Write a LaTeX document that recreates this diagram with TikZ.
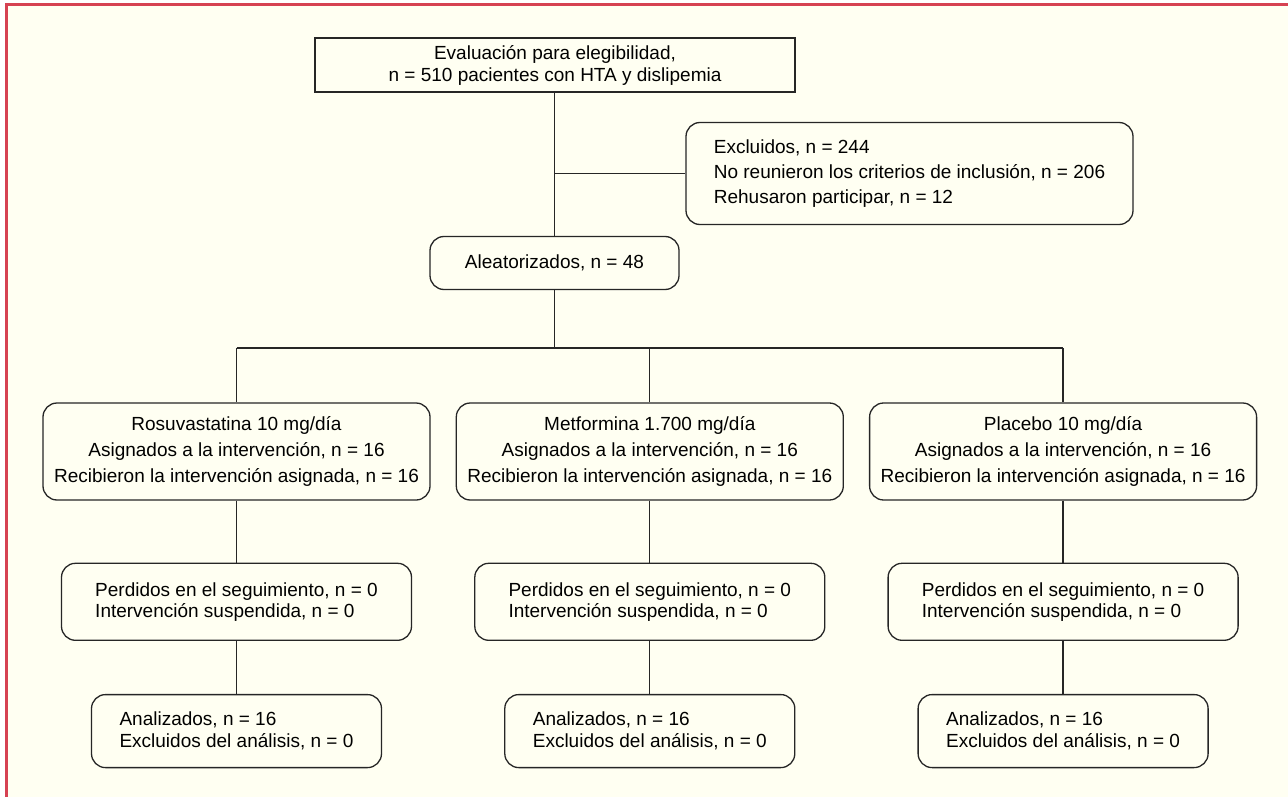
\documentclass[tikz,border=0pt]{standalone}
\usepackage{fontspec}
\setmainfont{Liberation Sans}
\usetikzlibrary{positioning}

\definecolor{crema}{RGB}{255,255,242}
\definecolor{marco}{RGB}{214,66,82}

\begin{document}
\begin{tikzpicture}[
    x=1pt, y=-1pt,
    font=\fontsize{19}{22}\selectfont,
    caja/.style={draw=black!85, line width=1.3pt, rounded corners=14pt, fill=crema,
        text=black, inner sep=0pt, minimum width=#1},
    grupo/.style={caja=387pt, minimum height=97pt, align=center,
        font=\fontsize{19}{26}\selectfont},
    segui/.style={caja=350pt, minimum height=77pt, align=left,
        font=\fontsize{19}{21}\selectfont},
    anali/.style={caja=290pt, minimum height=73pt, align=left,
        font=\fontsize{19}{22}\selectfont},
    linea/.style={draw=black!85, line width=1.3pt}
  ]
    \useasboundingbox (0,0) rectangle (1288,797);
    \fill[white] (0,0) rectangle (1288,797);
    \fill[crema] (6,4) rectangle (1288,797);
    \draw[marco, line width=2.5pt] (6.5,797) -- (6.5,4.5) -- (1288,4.5);

    \node[caja=480pt, minimum height=54pt, rounded corners=0pt, align=center] (eval) at (555,65)
        {Evaluación para elegibilidad,\\ n = 510 pacientes con HTA y dislipemia};
    \node[caja=447pt, minimum height=102pt, align=left, font=\fontsize{19}{25}\selectfont] (excl) at (909.5,173.5)
        {Excluidos, n = 244\\ No reunieron los criterios de inclusión, n = 206\\ Rehusaron participar, n = 12};
    \node[caja=249pt, minimum height=53pt] (alea) at (554.5,263) {Aleatorizados, n = 48};
    \coordinate (rama) at (554.5,348);

    \node[grupo] (g1) at (236.5,451.5) {Rosuvastatina 10 mg/día\\ Asignados a la intervención, n = 16\\ Recibieron la intervención asignada, n = 16};
    \node[grupo, right=25pt of g1] (g2) {Metformina 1.700 mg/día\\ Asignados a la intervención, n = 16\\ Recibieron la intervención asignada, n = 16};
    \node[grupo, right=25pt of g2] (g3) {Placebo 10 mg/día\\ Asignados a la intervención, n = 16\\ Recibieron la intervención asignada, n = 16};

    \node[segui, below=62pt of g1] (s1) {Perdidos en el seguimiento, n = 0\\ Intervención suspendida, n = 0};
    \node[segui, below=62pt of g2] (s2) {Perdidos en el seguimiento, n = 0\\ Intervención suspendida, n = 0};
    \node[segui, below=62pt of g3] (s3) {Perdidos en el seguimiento, n = 0\\ Intervención suspendida, n = 0};

    \node[anali, below=53pt of s1] (a1) {Analizados, n = 16\\ Excluidos del análisis, n = 0};
    \node[anali, below=53pt of s2] (a2) {Analizados, n = 16\\ Excluidos del análisis, n = 0};
    \node[anali, below=53pt of s3] (a3) {Analizados, n = 16\\ Excluidos del análisis, n = 0};

    \draw[linea] (alea.north |- eval.south) -- (alea.north);
    \draw[linea] (alea.north |- excl.west) -- (excl.west);
    \draw[linea] (alea.south) -- (rama);
    \draw[linea] (g1.north |- rama) -- (g3.north |- rama);
    \foreach \k in {1,2,3} {
        \draw[linea] (g\k.north |- rama) -- (g\k.north);
        \draw[linea] (g\k) -- (s\k);
        \draw[linea] (s\k) -- (a\k);
    }
  \end{tikzpicture}
\end{document}
